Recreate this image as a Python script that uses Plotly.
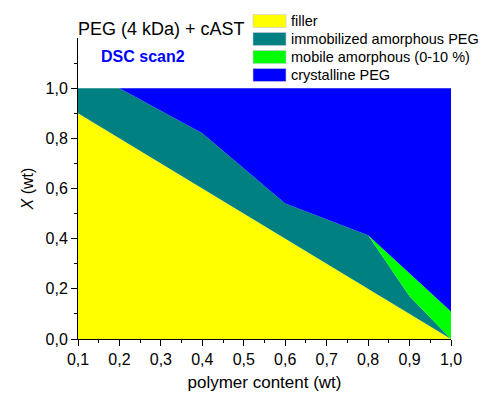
import plotly.graph_objects as go

# data
polymer = [0.1, 0.2, 0.4, 0.6, 0.8, 0.9, 1.0]
filler = [0.9, 0.8, 0.6, 0.4, 0.2, 0.1, 0.0]
immobilized = [0.1, 0.2, 0.22, 0.14, 0.214, 0.07, 0.0]
mobile = [0.0, 0.0, 0.0, 0.0, 0.0, 0.09, 0.11]
crystalline = [0.0, 0.0, 0.18, 0.46, 0.586, 0.74, 0.89]

series_names = ["filler", "immobilized amorphous PEG", "mobile amorphous (0-10 %)", "crystalline PEG"]
series_vals = [filler, immobilized, mobile, crystalline]
colors = ["#FFFF00", "#008080", "#00FF00", "#0000FF"]

x_ticks = [0.1, 0.2, 0.3, 0.4, 0.5, 0.6, 0.7, 0.8, 0.9, 1.0]
x_ticktext = ["0,1", "0,2", "0,3", "0,4", "0,5", "0,6", "0,7", "0,8", "0,9", "1,0"]
y_ticks = [0.0, 0.2, 0.4, 0.6, 0.8, 1.0]
y_ticktext = ["0,0", "0,2", "0,4", "0,6", "0,8", "1,0"]

W, H = 484, 399
L, R, T, B = 78, 33, 38, 60
pw, ph = W - L - R, H - T - B

def px(xp):
    return (xp - L) / pw

def py(yp):
    return (H - B - yp) / ph

FONT = "Arial, Liberation Sans, sans-serif"

fig = go.Figure()
for name, vals, c in zip(series_names, series_vals, colors):
    fig.add_trace(go.Scatter(
        x=polymer, y=vals, name=name, mode="lines",
        stackgroup="one", line=dict(width=0, color=c),
        fillcolor=c, showlegend=False, hoverinfo="x+y+name"))

# manual legend
shapes = []
annotations = []
row_y = [21, 39, 57, 75]
for name, c, ry in zip(series_names, colors, row_y):
    shapes.append(dict(type="rect", xref="paper", yref="paper",
                       x0=px(253), x1=px(286), y0=py(ry + 6.5), y1=py(ry - 6.5),
                       fillcolor=c, line=dict(width=1, color="rgba(200,200,220,0.6)")))
    annotations.append(dict(text=name, xref="paper", yref="paper",
                            x=px(289), y=py(ry), xanchor="left", yanchor="middle",
                            showarrow=False, font=dict(size=14.5, color="#000", family=FONT)))

annotations.append(dict(text="<b>DSC scan2</b>", xref="paper", yref="paper",
                        x=px(99), y=py(57), xanchor="left", yanchor="middle",
                        showarrow=False, font=dict(size=16, color="#0000FF", family=FONT)))
annotations.append(dict(text="PEG (4 kDa) + cAST", xref="paper", yref="paper",
                        x=px(76), y=py(29), xanchor="left", yanchor="middle",
                        showarrow=False, font=dict(size=18, color="#000", family=FONT)))

fig.update_layout(
    width=W, height=H,
    margin=dict(l=L, r=R, t=T, b=B),
    paper_bgcolor="white", plot_bgcolor="white",
    font=dict(family=FONT, color="#000"),
    shapes=shapes, annotations=annotations,
    showlegend=False,
)
fig.update_xaxes(
    range=[0.1, 1.0], tickvals=x_ticks, ticktext=x_ticktext,
    ticks="outside", ticklen=6, tickwidth=1, tickcolor="#000",
    showline=True, linecolor="#000", linewidth=1, showgrid=False, zeroline=False,
    tickfont=dict(size=16, family=FONT),
    minor=dict(tickvals=[0.15, 0.25, 0.35, 0.45, 0.55, 0.65, 0.75, 0.85, 0.95],
               ticks="outside", ticklen=3, tickcolor="#000"),
    title=dict(text="polymer content (wt)", font=dict(size=17, family=FONT), standoff=8),
)
fig.update_yaxes(
    range=[0, 1.2], tickvals=y_ticks, ticktext=y_ticktext,
    ticks="outside", ticklen=6, tickwidth=1, tickcolor="#000",
    showline=True, linecolor="#000", linewidth=1, showgrid=False, zeroline=False,
    tickfont=dict(size=16, family=FONT),
    minor=dict(tickvals=[0.1, 0.3, 0.5, 0.7, 0.9, 1.1],
               ticks="outside", ticklen=3, tickcolor="#000"),
    title=dict(text="<i>X</i> (wt)", font=dict(size=16, family=FONT), standoff=7),
)

fig.write_html("out.html")
